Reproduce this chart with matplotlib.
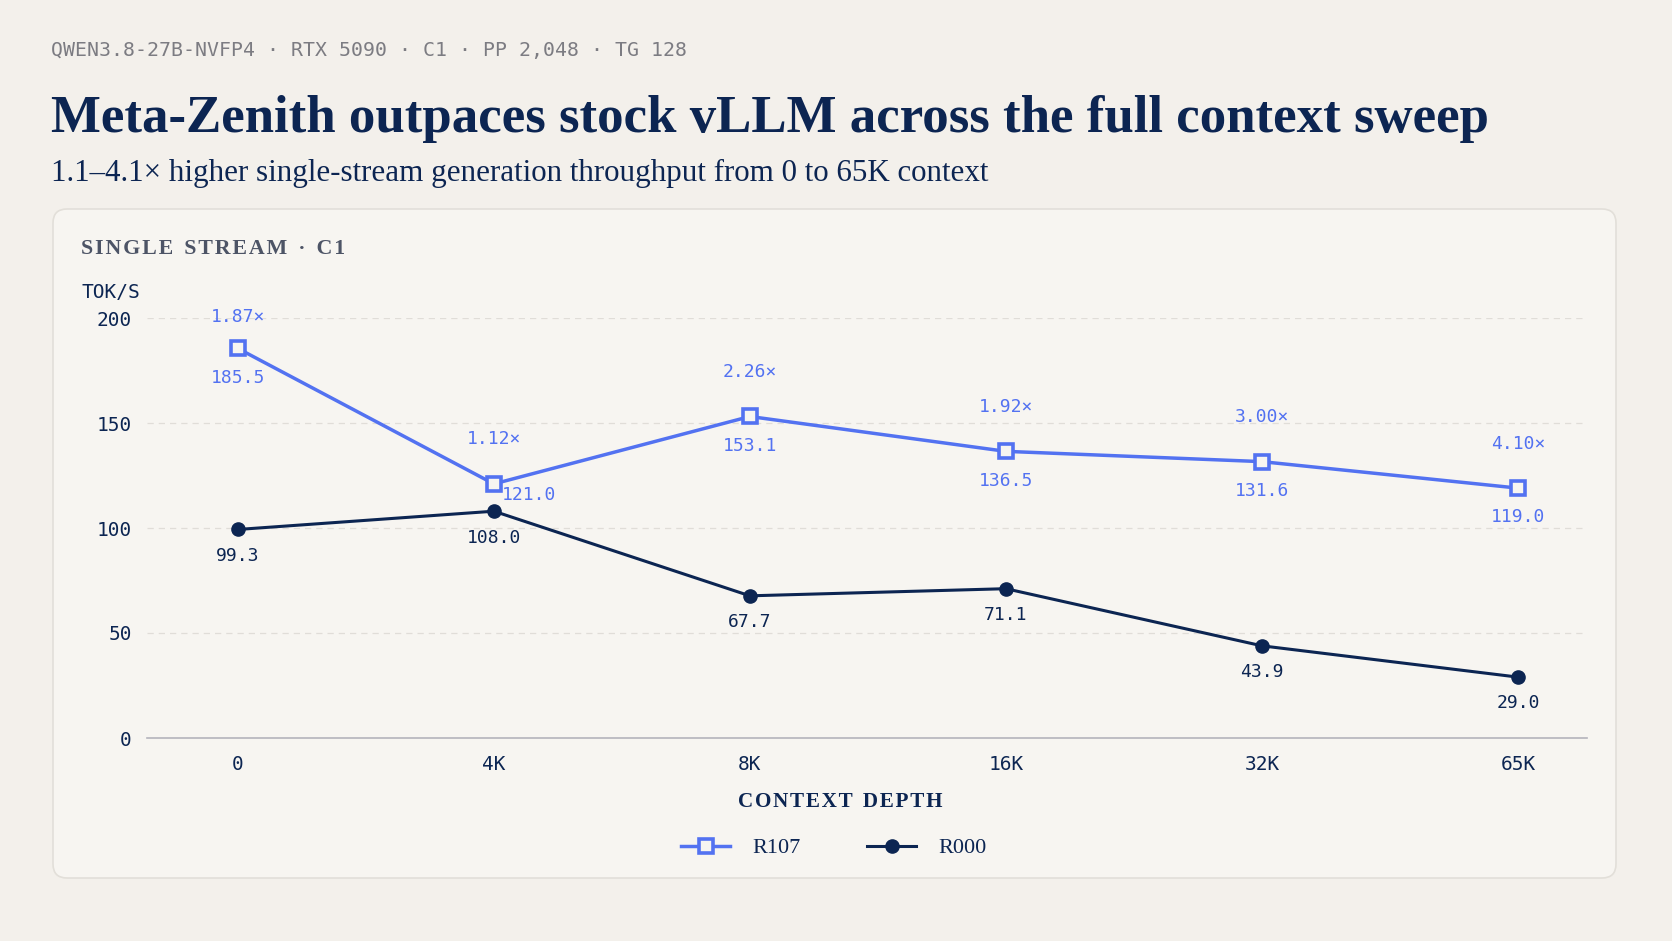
import numpy as np
from matplotlib import pyplot as plt
from matplotlib.patches import FancyBboxPatch
from matplotlib.lines import Line2D

# data
contexts = ["0", "4K", "8K", "16K", "32K", "65K"]
r107 = [185.5, 121.0, 153.1, 136.5, 131.6, 119.0]
r000 = [99.3, 108.0, 67.7, 71.1, 43.9, 29.0]
yticks = [0, 50, 100, 150, 200]

W, H = 1672, 941
BG = "#F3F0EB"
PANEL = "#F7F5F1"
NAVY = "#0C2552"
BLUE = "#5372F1"
GRAY = "#7C7C82"

SERIF = ["Liberation Serif", "DejaVu Serif"]
MONO = ["DejaVu Sans Mono"]


def fy(py):
    # pixel from top -> figure fraction
    return 1 - py / H


def fit_text(fig, x, y, s, width_px, **kw):
    t = fig.text(x / W, fy(y), s, **kw)
    r = fig.canvas.get_renderer()
    w = t.get_window_extent(r).width
    t.set_fontsize(t.get_fontsize() * width_px / w)
    return t


def spaced(s):
    return "\u200a".join(s)


fig = plt.figure(figsize=(W / 100, H / 100), dpi=100, facecolor=BG)

# card behind the chart
card = FancyBboxPatch((53, H - 878), 1616 - 53, 878 - 209,
                      boxstyle="round,pad=0,rounding_size=14",
                      transform=None, facecolor=PANEL, edgecolor="#E2DFD9",
                      linewidth=1.2, zorder=-5)
fig.patches.append(card)

# header texts
fit_text(fig, 51, 56, "QWEN3.8-27B-NVFP4 · RTX 5090 · C1 · PP 2,048 · TG 128", 638,
         family=MONO, color=GRAY, fontsize=14, va="baseline")
fit_text(fig, 51, 132, "Meta-Zenith outpaces stock vLLM across the full context sweep", 1438,
         family=SERIF, color=NAVY, fontsize=38, fontweight="bold", va="baseline")
fit_text(fig, 51, 181, "1.1–4.1× higher single-stream generation throughput from 0 to 65K context", 936,
         family=SERIF, color=NAVY, fontsize=21, va="baseline")
fit_text(fig, 81, 254, spaced("SINGLE") + "  " + spaced("STREAM") + "  ·  " + spaced("C1"), 262,
         family=SERIF, color="#4D5466", fontsize=13, fontweight="bold", va="baseline")
fig.text(82 / W, fy(298), "TOK/S", family=MONO, color=NAVY, fontsize=14, va="baseline")

# axes
ax = fig.add_axes([147 / W, fy(738), 1440 / W, (738 - 318) / H])
ax.set_facecolor("none")
x = np.arange(len(contexts))
ax.set_xlim(-0.355, 5.27)
ax.set_ylim(0, 200)
for s in ["top", "right", "left"]:
    ax.spines[s].set_visible(False)
ax.spines["bottom"].set_color("#B4B4BC")
ax.spines["bottom"].set_linewidth(1.2)
ax.set_yticks(yticks)
ax.set_xticks(x)
ax.set_xticklabels(contexts)
ax.tick_params(length=0, labelsize=14, labelcolor=NAVY)
ax.tick_params(axis="y", pad=11)
ax.tick_params(axis="x", pad=12)
for lab in ax.get_xticklabels() + ax.get_yticklabels():
    lab.set_family(MONO)
for v in yticks[1:]:
    ax.axhline(v, color="#E0DDD8", lw=0.9, ls=(0, (5, 4)), zorder=1)

ax.plot(x, r107, color=BLUE, lw=2.5, marker="s", ms=10, mew=2.6,
        mfc=PANEL, mec=BLUE, zorder=4, clip_on=False)
ax.plot(x, r000, color=NAVY, lw=2.2, marker="o", ms=9.5,
        mfc=NAVY, mec=NAVY, zorder=3, clip_on=False)

lab_kw = dict(textcoords="offset points", ha="center", va="center",
              family=MONO, fontsize=13, annotation_clip=False)
for i in range(len(contexts)):
    ratio = r107[i] / r000[i]
    up = 23 if i == 0 else 32
    ax.annotate(f"{ratio:.2f}×", (x[i], r107[i]), xytext=(0, up), color=BLUE, **lab_kw)
    off = (25, -8) if i == 1 else (0, -21)
    ax.annotate(f"{r107[i]:.1f}", (x[i], r107[i]), xytext=off, color=BLUE, **lab_kw)
    ax.annotate(f"{r000[i]:.1f}", (x[i], r000[i]), xytext=(0, -19), color=NAVY, **lab_kw)

fit_text(fig, 840, 807, spaced("CONTEXT") + "  " + spaced("DEPTH"), 205,
         family=SERIF, color=NAVY, fontsize=13, fontweight="bold", va="baseline", ha="center")

handles = [
    Line2D([], [], color=BLUE, lw=2.5, marker="s", ms=10, mew=2.6, mfc=PANEL, mec=BLUE),
    Line2D([], [], color=NAVY, lw=2.2, marker="o", ms=9.5, mfc=NAVY, mec=NAVY),
]
leg = fig.legend(handles, ["R107", "R000"], loc="center", ncol=2,
                 bbox_to_anchor=(834 / W, fy(848)), frameon=False,
                 handlelength=2.2, handletextpad=1.0, columnspacing=3.0,
                 prop={"family": SERIF, "size": 16})
for t in leg.get_texts():
    t.set_color(NAVY)

fig.savefig("out.png", dpi=100, facecolor=BG)
